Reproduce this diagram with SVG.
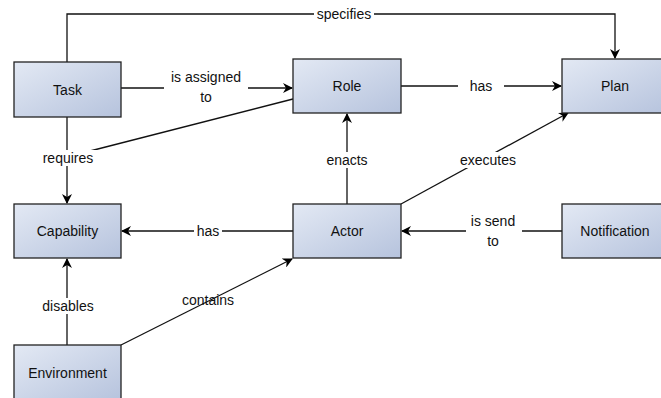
<svg xmlns="http://www.w3.org/2000/svg" width="661" height="398" viewBox="0 0 661 398">
<defs>
<linearGradient id="g" x1="0" y1="0" x2="1" y2="1">
<stop offset="0" stop-color="#e3e9f4"/>
<stop offset="1" stop-color="#b6c3dd"/>
</linearGradient>
<marker id="a" viewBox="0 0 10 10" refX="9" refY="5" markerWidth="10" markerHeight="10" markerUnits="userSpaceOnUse" orient="auto">
<path d="M0,0 L10,5 L0,10 L3,5 Z" fill="#000"/>
</marker>
<style>
.n{fill:url(#g);stroke:#222;stroke-width:1.3}
.t{font-family:"Liberation Sans",Arial,sans-serif;font-size:14px;fill:#111;text-anchor:middle;dominant-baseline:central}
.e{fill:none;stroke:#111;stroke-width:1.3}
.l{font-family:"Liberation Sans",Arial,sans-serif;font-size:14px;fill:#111;text-anchor:middle;dominant-baseline:central}
.bg{fill:#fff}
</style>
</defs>
<rect width="661" height="398" fill="#fff"/>
<g id="connectors">
<path class="e" d="M67,62 V14 H615 V58" marker-end="url(#a)"/>
<rect class="bg" x="314" y="6" width="60" height="16"/>
<text class="l" x="344" y="14">specifies</text>

<path class="e" d="M121,88 H292" marker-end="url(#a)"/>
<rect class="bg" x="164" y="68" width="84" height="38"/>
<text class="l" x="206" y="77">is assigned</text>
<text class="l" x="206" y="97">to</text>

<path class="e" d="M293,99 L90,151"/>

<path class="e" d="M67,117 V203" marker-end="url(#a)"/>
<rect class="bg" x="38" y="150" width="60" height="16"/>
<text class="l" x="68" y="158">requires</text>

<path class="e" d="M401,86 H561" marker-end="url(#a)"/>
<rect class="bg" x="458" y="78" width="46" height="16"/>
<text class="l" x="481" y="86">has</text>

<path class="e" d="M347,204 V114" marker-end="url(#a)"/>
<rect class="bg" x="322" y="152" width="50" height="16"/>
<text class="l" x="347" y="160">enacts</text>

<path class="e" d="M401,204 L568,113" marker-end="url(#a)"/>
<rect class="bg" x="456" y="152" width="64" height="16"/>
<text class="l" x="488" y="160">executes</text>

<path class="e" d="M562,231 H402" marker-end="url(#a)"/>
<rect class="bg" x="466" y="212" width="56" height="38"/>
<text class="l" x="493" y="221">is send</text>
<text class="l" x="493" y="241">to</text>

<path class="e" d="M293,231 H122" marker-end="url(#a)"/>
<rect class="bg" x="194" y="223" width="28" height="16"/>
<text class="l" x="208" y="231">has</text>

<path class="e" d="M67,345 V259" marker-end="url(#a)"/>
<rect class="bg" x="38" y="298" width="60" height="16"/>
<text class="l" x="68" y="306">disables</text>

<path class="e" d="M121,345 L292,259" marker-end="url(#a)"/>
<text class="l" x="208" y="300">contains</text>
</g>
<g id="task"><rect class="n" x="14" y="62" width="107" height="55"/><text class="t" x="67.5" y="90">Task</text></g>
<g id="role"><rect class="n" x="293" y="59" width="108" height="54"/><text class="t" x="347" y="86">Role</text></g>
<g id="plan"><rect class="n" x="562" y="59" width="106" height="54"/><text class="t" x="615" y="86">Plan</text></g>
<g id="capability"><rect class="n" x="14" y="204" width="107" height="54"/><text class="t" x="67.5" y="231">Capability</text></g>
<g id="actor"><rect class="n" x="293" y="204" width="108" height="54"/><text class="t" x="347" y="231">Actor</text></g>
<g id="notification"><rect class="n" x="562" y="204" width="106" height="54"/><text class="t" x="615" y="231">Notification</text></g>
<g id="environment"><rect class="n" x="14" y="345" width="107" height="56"/><text class="t" x="67.5" y="373">Environment</text></g>
</svg>
